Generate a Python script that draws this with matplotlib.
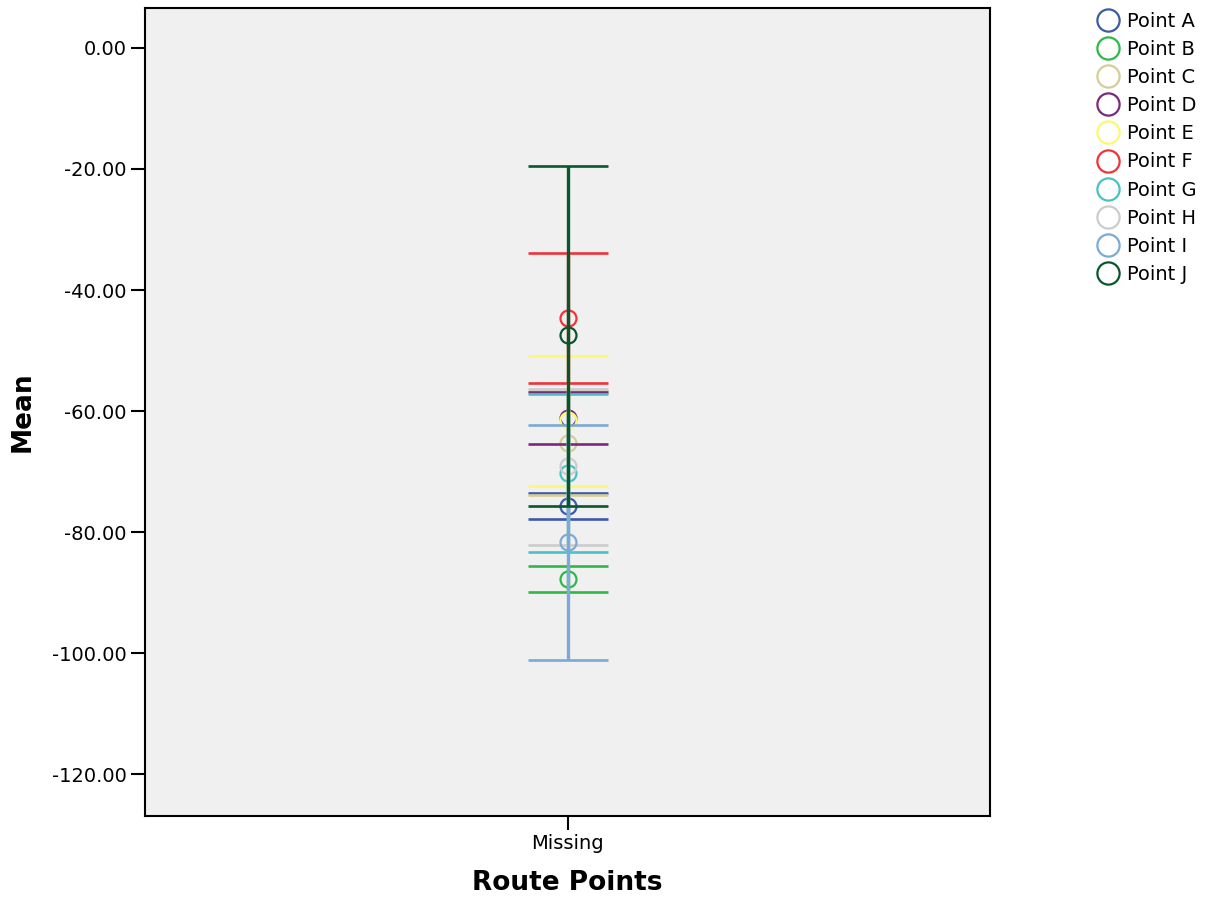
import matplotlib
matplotlib.use("Agg")
import matplotlib.pyplot as plt
from matplotlib.lines import Line2D

plt.rcParams['axes.unicode_minus'] = False
plt.rcParams['font.family'] = ['DejaVu Sans']

# datos
categorias = ['Missing']
puntos = ['Point A', 'Point B', 'Point C', 'Point D', 'Point E',
          'Point F', 'Point G', 'Point H', 'Point I', 'Point J']
medias = [-75.6, -87.8, -65.2, -61.1, -61.5, -44.6, -70.3, -69.1, -81.6, -47.5]
superior = [-73.6, -85.6, -56.6, -56.8, -50.9, -33.8, -57.2, -56.3, -62.3, -19.5]
inferior = [-77.9, -89.9, -73.8, -65.5, -72.4, -55.4, -83.2, -82.1, -101.2, -75.6]
colores = ['#3E58AC', '#2EB848', '#D3CE97', '#7C287D', '#FBF873',
           '#EF3338', '#48C2C5', '#CCCCCC', '#7AAAD5', '#0A562C']
ticks_y = [0, -20, -40, -60, -80, -100, -120]

fig = plt.figure(figsize=(12.14, 8.99), dpi=100)
ax = fig.add_axes([145 / 1214, 83 / 899, 845 / 1214, 808 / 899])
ax.set_facecolor('#F0F0F0')

handles = []
for i, (p, m, hi, lo, c) in enumerate(zip(puntos, medias, superior, inferior, colores)):
    ax.plot([0], [m], 'o', ms=11.5, mfc='none', mec=c, mew=1.6, zorder=3 + i)
    ax.errorbar([0], [m], yerr=[[m - lo], [hi - m]], fmt='none', ecolor=c,
                elinewidth=2.4, capsize=29, capthick=1.9, zorder=3 + i)
    handles.append(Line2D([], [], ls='none', marker='o', ms=16, mfc='none',
                          mec=c, mew=1.6, label=p))

ax.set_xlim(-1, 1)
ax.set_ylim(-126.9, 6.6)
ax.set_xticks([0])
ax.set_xticklabels(categorias)
ax.set_yticks(ticks_y)
ax.set_yticklabels(['%.2f' % v for v in ticks_y])
ax.tick_params(axis='both', length=10, width=1.5, labelsize=14, color='black')
ax.tick_params(axis='y', pad=3)
ax.tick_params(axis='x', pad=3)
for s in ax.spines.values():
    s.set_linewidth(1.5)

ax.set_xlabel('Route Points', fontsize=19, fontweight='bold')
ax.xaxis.set_label_coords(0.5, -0.067)
ax.set_ylabel('Mean', fontsize=19, fontweight='bold')
ax.yaxis.set_label_coords(-0.130, 0.5)

fig.legend(handles=handles, loc='upper left', bbox_to_anchor=(1096 / 1214, 0.987),
           frameon=False, fontsize=14, handlelength=1.2, handletextpad=0.4,
           borderpad=0, borderaxespad=0, labelspacing=0.47)

fig.savefig('out.png', dpi=100)
